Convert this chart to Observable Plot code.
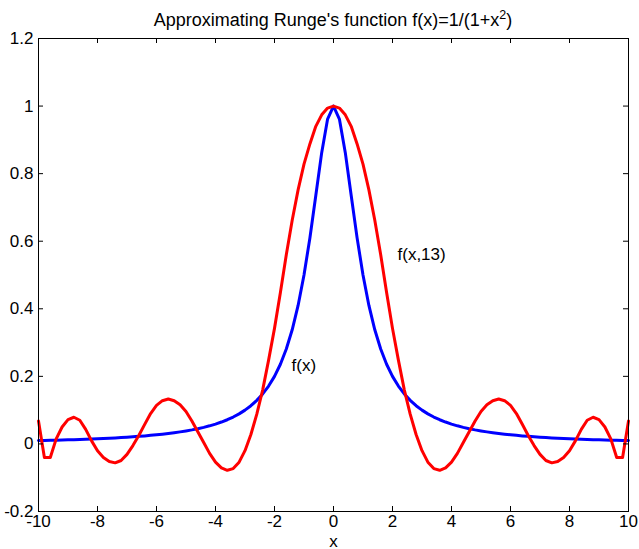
<!DOCTYPE html>
<html><head><meta charset="utf-8">
<script src="https://cdn.jsdelivr.net/npm/d3@7"></script>
<script src="https://cdn.jsdelivr.net/npm/@observablehq/plot@0.6"></script>
<style>body{margin:0;background:#fff} svg{display:block}</style>
</head><body><div id="chart"></div>
<script>
const xs = [-10,-9.8,-9.6,-9.4,-9.2,-9,-8.8,-8.6,-8.4,-8.2,-8,-7.8,-7.6,-7.4,-7.2,-7,-6.8,-6.6,-6.4,-6.2,-6,-5.8,-5.6,-5.4,-5.2,-5,-4.8,-4.6,-4.4,-4.2,-4,-3.8,-3.6,-3.4,-3.2,-3,-2.8,-2.6,-2.4,-2.2,-2,-1.8,-1.6,-1.4,-1.2,-1,-0.8,-0.6,-0.4,-0.2,0,
  0.2,0.4,0.6,0.8,1,1.2,1.4,1.6,1.8,2,2.2,2.4,2.6,2.8,3,3.2,3.4,3.6,3.8,4,4.2,4.4,4.6,4.8,5,5.2,5.4,5.6,5.8,6,6.2,6.4,6.6,6.8,7,7.2,7.4,7.6,7.8,8,8.2,8.4,8.6,8.8,9,9.2,9.4,9.6,9.8,10];
const rungeValues = [0.0099,0.0103,0.0107,0.0112,0.0117,0.0122,0.0127,0.0133,0.0140,0.0147,0.0154,0.0162,0.0170,0.0179,0.0189,0.0200,0.0212,0.0224,0.0238,0.0254,0.0270,0.0289,0.0309,0.0332,0.0357,0.0385,0.0416,0.0451,0.0491,0.0536,0.0588,0.0648,0.0716,0.0796,0.0890,0.1000,0.1131,0.1289,0.1479,0.1712,0.2000,0.2358,0.2809,0.3378,0.4098,0.5000,0.6098,0.7353,0.8621,0.9615,1.0000,
  0.9615,0.8621,0.7353,0.6098,0.5000,0.4098,0.3378,0.2809,0.2358,0.2000,0.1712,0.1479,0.1289,0.1131,0.1000,0.0890,0.0796,0.0716,0.0648,0.0588,0.0536,0.0491,0.0451,0.0416,0.0385,0.0357,0.0332,0.0309,0.0289,0.0270,0.0254,0.0238,0.0224,0.0212,0.0200,0.0189,0.0179,0.0170,0.0162,0.0154,0.0147,0.0140,0.0133,0.0127,0.0122,0.0117,0.0112,0.0107,0.0103,0.0099];
const approxValues = [0.068,-0.040,-0.040,0.015,0.050,0.072,0.079,0.070,0.043,0.009,-0.020,-0.040,-0.052,-0.056,-0.049,-0.031,-0.005,0.025,0.058,0.090,0.114,0.128,0.133,0.128,0.116,0.096,0.068,0.036,0.004,-0.028,-0.054,-0.071,-0.078,-0.073,-0.054,-0.020,0.028,0.088,0.160,0.248,0.342,0.448,0.560,0.662,0.752,0.828,0.888,0.940,0.974,0.994,1.000,
  0.994,0.974,0.940,0.888,0.828,0.752,0.662,0.560,0.448,0.342,0.248,0.160,0.088,0.028,-0.020,-0.054,-0.073,-0.078,-0.071,-0.054,-0.028,0.004,0.036,0.068,0.096,0.116,0.128,0.133,0.128,0.114,0.090,0.058,0.025,-0.005,-0.031,-0.049,-0.056,-0.052,-0.040,-0.020,0.009,0.043,0.070,0.079,0.072,0.050,0.015,-0.040,-0.040,0.068];
const xTicks = [-10,-8,-6,-4,-2,0,2,4,6,8,10];
const xTickLabels = ["-10","-8","-6","-4","-2","0","2","4","6","8","10"];
const yTicks = [-0.2,0,0.2,0.4,0.6,0.8,1,1.2];
const yTickLabels = ["-0.2","0","0.2","0.4","0.6","0.8","1","1.2"];
const curveLabels = [{x:2.17, y:0.562, text:"f(x,13)"},{x:-1.42, y:0.231, text:"f(x)"}];
const titleMain = "Approximating Runge's function f(x)=1/(1+x";
const titleSup = "2";
const titleEnd = ")";
const xLabel = "x";

const runge = xs.map((x,i)=>({x, y: rungeValues[i]}));
const approx = xs.map((x,i)=>({x, y: approxValues[i]}));

const W = 639, H = 549, mL = 38, mR = 11, mT = 38, mB = 38;
const innerW = W - mL - mR, innerH = H - mT - mB, tick = 5;
const font = "'Liberation Sans', Arial, Helvetica, sans-serif";

const chart = Plot.plot({
  width: W, height: H,
  marginLeft: mL, marginRight: mR, marginTop: mT, marginBottom: mB,
  style: {fontFamily: font, color: "black", background: "white"},
  x: {domain: [-10, 10]},
  y: {domain: [-0.2, 1.2]},
  marks: [
    Plot.line(runge, {x: "x", y: "y", stroke: "#0000ff", strokeWidth: 3}),
    Plot.line(approx, {x: "x", y: "y", stroke: "#ff0000", strokeWidth: 3}),
    Plot.text(curveLabels, {x: "x", y: "y", text: "text", textAnchor: "start", fontSize: 17, fill: "black"}),
    Plot.tickX(xTicks, {x: d => d, insetTop: innerH - tick, stroke: "black"}),
    Plot.tickX(xTicks, {x: d => d, insetBottom: innerH - tick, stroke: "black"}),
    Plot.tickY(yTicks, {y: d => d, insetRight: innerW - tick, stroke: "black"}),
    Plot.tickY(yTicks, {y: d => d, insetLeft: innerW - tick, stroke: "black"}),
    Plot.frame({stroke: "black"}),
    Plot.axisX(xTicks, {tickSize: 0, tickPadding: 3, tickFormat: d => xTickLabels[xTicks.indexOf(d)], fontSize: 17, fill: "black", label: null}),
    Plot.axisY(yTicks, {tickSize: 0, tickPadding: 5, tickFormat: d => yTickLabels[yTicks.indexOf(d)], fontSize: 17, fill: "black", label: null}),
    Plot.text([xLabel], {frameAnchor: "bottom", dy: 35, fontSize: 17, fill: "black"})
  ]
});

const xs0 = chart.scale("x");
const cx = (xs0.apply(-10) + xs0.apply(10)) / 2;
const t = d3.select(chart).append("text")
  .attr("x", cx).attr("y", 26)
  .attr("text-anchor", "middle")
  .attr("font-size", 18)
  .attr("font-family", font)
  .attr("fill", "black");
t.append("tspan").text(titleMain);
t.append("tspan").attr("font-size", 12.5).attr("dy", -7.5).text(titleSup);
t.append("tspan").attr("dy", 7.5).text(titleEnd);

document.getElementById("chart").appendChild(chart);
</script>
</body></html>
